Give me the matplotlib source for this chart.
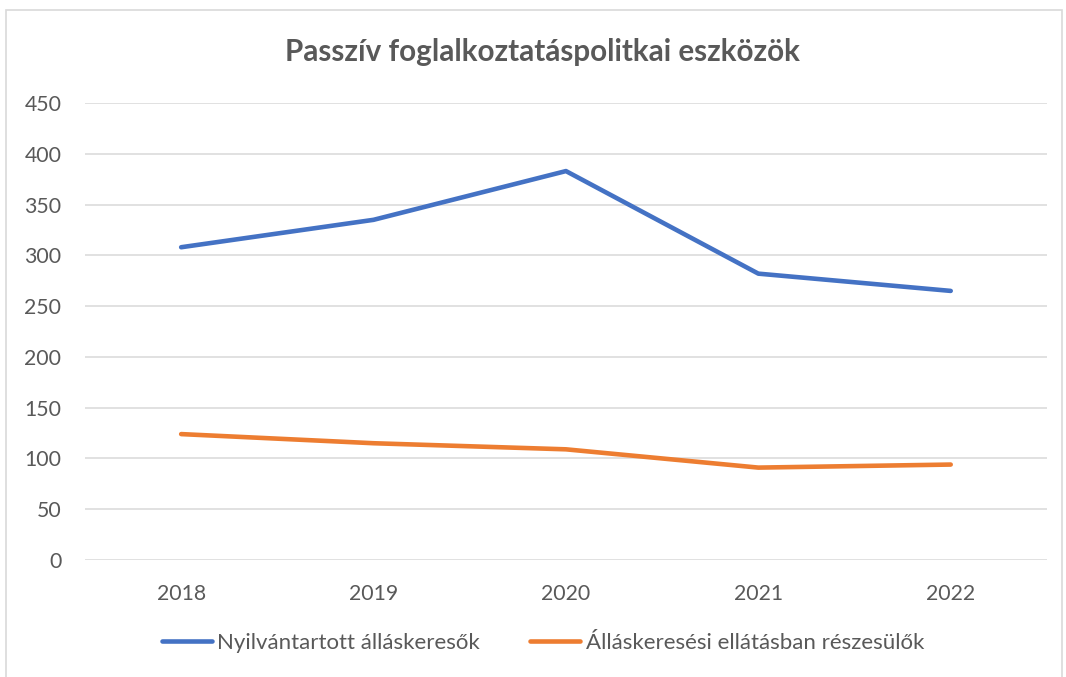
import matplotlib.pyplot as plt
import numpy as np
from matplotlib.patches import Rectangle
from matplotlib.lines import Line2D

years = ['2018', '2019', '2020', '2021', '2022']
nyilvantartott = [308, 335, 383, 282, 265]
ellatasban = [124, 115, 109, 91, 94]
series_names = ['Nyilvántartott álláskeresők', 'Álláskeresési ellátásban részesülők']
colors = ['#4472C4', '#ED7D31']
text_color = '#595959'

plt.rcParams['font.family'] = ['Lato', 'DejaVu Sans']

fig = plt.figure(figsize=(10.66, 6.77), dpi=100)
ax = fig.add_axes([0.0797, 0.1728, 0.9024, 0.6750])

x = np.arange(len(years))
for vals, col in zip([nyilvantartott, ellatasban], colors):
    ax.plot(x, vals, color=col, linewidth=3.3, solid_capstyle='round',
            solid_joinstyle='round', zorder=3)

ax.set_xlim(-0.5, len(years) - 0.5)
ax.set_ylim(0, 450)
ax.set_yticks(np.arange(0, 451, 50))
ax.set_xticks(x)
ax.set_xticklabels(years)
ax.grid(axis='y', color='#D9D9D9', linewidth=1.1)
ax.set_axisbelow(True)
for s in ax.spines.values():
    s.set_visible(False)
ax.tick_params(axis='both', length=0, labelsize=15.3, labelcolor=text_color)
ax.tick_params(axis='y', pad=17)
ax.tick_params(axis='x', pad=17)

fig.text(542 / 1066, 1 - 52 / 677, 'Passzív foglalkoztatáspolitkai eszközök',
         ha='center', va='center', fontsize=21.3, fontweight='bold',
         color=text_color)

handles = [Line2D([0], [0], color=c, linewidth=3.3, solid_capstyle='round')
           for c in colors]
fig.legend(handles, series_names, loc='center', bbox_to_anchor=(543 / 1066, 1 - 643 / 677),
           ncol=2, frameon=False, fontsize=16, labelcolor=text_color,
           handlelength=2.25, handletextpad=0.25, columnspacing=2.25)

fig.patches.append(Rectangle((6 / 1066, -0.02), 1056 / 1066, 1.02 - 10 / 677,
                             transform=fig.transFigure, fill=False,
                             edgecolor='#D9D9D9', linewidth=1.2))

fig.savefig('out.png', dpi=100)
